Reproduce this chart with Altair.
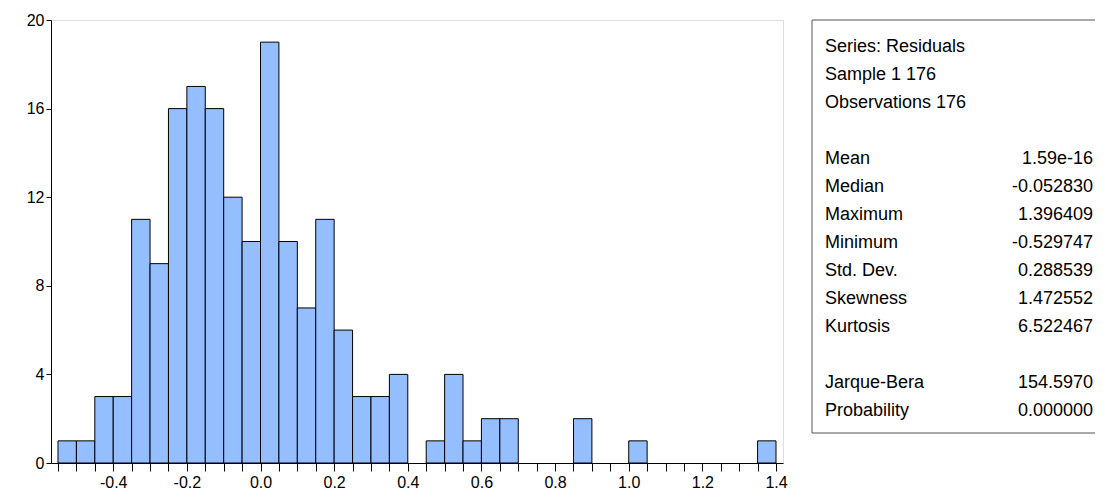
import altair as alt
import pandas as pd

# histogram bins (left edges) and counts
bin_left = [-0.55, -0.50, -0.45, -0.40, -0.35, -0.30, -0.25, -0.20, -0.15, -0.10,
            -0.05, 0.00, 0.05, 0.10, 0.15, 0.20, 0.25, 0.30, 0.35, 0.40,
            0.45, 0.50, 0.55, 0.60, 0.65, 0.70, 0.75, 0.80, 0.85, 0.90,
            0.95, 1.00, 1.05, 1.10, 1.15, 1.20, 1.25, 1.30, 1.35]
counts = [1, 1, 3, 3, 11, 9, 16, 17, 16, 12,
          10, 19, 10, 7, 11, 6, 3, 3, 4, 0,
          1, 4, 1, 2, 2, 0, 0, 0, 2, 0,
          0, 1, 0, 0, 0, 0, 0, 0, 1]
bin_width = 0.05

stat_labels = ["Series: Residuals", "Sample 1 176", "Observations 176", "",
               "Mean", "Median", "Maximum", "Minimum", "Std. Dev.", "Skewness", "Kurtosis", "",
               "Jarque-Bera", "Probability"]
stat_values = ["", "", "", "",
               "1.59e-16", "-0.052830", "1.396409", "-0.529747", "0.288539", "1.472552", "6.522467", "",
               "154.5970", "0.000000"]

df = pd.DataFrame({
    "left": bin_left,
    "right": [round(b + bin_width, 2) for b in bin_left],
    "count": counts,
})
df = df[df["count"] > 0]

ticks = [round(-0.55 + 0.05 * i, 2) for i in range(40)]

FONT = "Liberation Sans"

bars = alt.Chart(df).mark_rect(fill="#94BEFF", stroke="#000000", strokeWidth=1).encode(
    x=alt.X("left:Q", scale=alt.Scale(domain=[-0.569, 1.419], nice=False, zero=False),
            axis=alt.Axis(title=None, values=ticks, grid=False, domainColor="black", tickColor="black",
                          tickSize=8, labelFontSize=16, labelColor="black", labelFont=FONT,
                          labelPadding=3,
                          labelExpr="abs(round(datum.value*100)) % 20 == 0 ? replace(format(datum.value, '.1f'), '\u2212', '-') : ''")),
    x2="right:Q",
    y=alt.Y("count:Q", scale=alt.Scale(domain=[0, 20], nice=False),
            axis=alt.Axis(title=None, values=[0, 4, 8, 12, 16, 20], grid=False, domainColor="black",
                          tickColor="black", tickSize=5, labelFontSize=16, labelColor="black",
                          labelFont=FONT)),
)

box = alt.Chart(pd.DataFrame({"a": [0]})).mark_rect(fill="white", stroke="#555555", strokeWidth=1).encode(
    x=alt.value(761), x2=alt.value(1100), y=alt.value(0), y2=alt.value(413)
)

tdf = pd.DataFrame({"label": stat_labels, "value": stat_values,
                    "ypx": [27 + 28 * i for i in range(len(stat_labels))]})

labels = alt.Chart(tdf).mark_text(align="left", baseline="middle", fontSize=18, font=FONT, color="black").encode(
    x=alt.value(774), y=alt.Y("ypx:Q", scale=None), text="label:N"
)
values = alt.Chart(tdf).mark_text(align="right", baseline="middle", fontSize=18, font=FONT, color="black").encode(
    x=alt.value(1042), y=alt.Y("ypx:Q", scale=None), text="value:N"
)

chart = alt.layer(bars, box, labels, values).properties(
    width=732, height=443,
    autosize=alt.AutoSizeParams(type="none"),
    padding={"left": 43, "top": 12, "right": 312, "bottom": 27},
).configure_view(stroke="black", strokeWidth=1).configure(background="white")

chart.save("out.html", embed_options={"renderer": "svg", "actions": False})
